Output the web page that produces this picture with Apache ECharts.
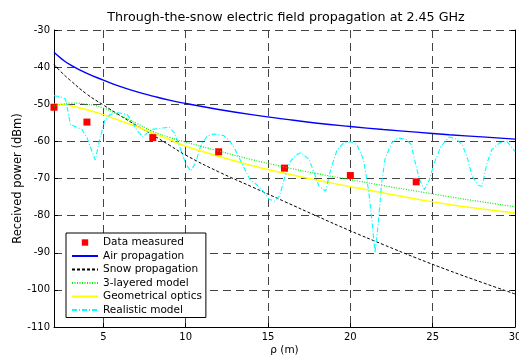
<!DOCTYPE html>
<html>
<head>
<meta charset="utf-8">
<script src="https://cdn.jsdelivr.net/npm/echarts@6/dist/echarts.min.js"></script>
<style>
html,body{margin:0;padding:0;background:#fff;}
#chart{width:519px;height:356px;}
</style>
</head>
<body>
<div id="chart"></div>
<script>
// ---- data ----
const titleText = 'Through-the-snow electric field propagation at 2.45 GHz';
const xName = 'ρ (m)';
const yName = 'Received power (dBm)';
const seriesNames = ['Data measured','Air propagation','Snow propagation','3-layered model','Geometrical optics','Realistic model'];

const measRho   = [2, 4, 8, 12, 16, 20, 24];
const measPower = [-50.8, -54.8, -59.0, -62.8, -67.2, -69.2, -70.9];

const modelRho     = [2, 2.5, 3, 4, 5, 6, 7, 8, 9, 10, 12, 14, 16, 18, 20, 22, 24, 26, 28, 30];
const airPower     = [-36.0, -37.9, -39.4, -41.7, -43.5, -45.2, -46.6, -47.8, -48.9, -49.8, -51.4, -52.8, -54.0, -55.1, -56.0, -56.8, -57.5, -58.2, -58.8, -59.4];
const snowPower    = [-39.3, -41.6, -43.6, -47.3, -50.2, -53.0, -55.7, -58.3, -61.0, -63.7, -68.2, -72.2, -76.2, -80.2, -84.1, -87.8, -91.4, -94.8, -98.0, -101.1];
const layeredPower = [-50.5, -50.0, -49.7, -50.0, -51.0, -53.0, -55.1, -57.3, -58.9, -60.2, -62.6, -64.9, -66.9, -68.7, -70.3, -71.9, -73.4, -74.9, -76.3, -77.6];
const opticsPower  = [-50.0, -50.1, -50.4, -51.5, -52.8, -54.4, -56.0, -57.8, -59.5, -61.3, -64.0, -66.5, -68.6, -70.5, -72.2, -73.9, -75.5, -77.0, -78.2, -79.3];

const realRho   = [2.0, 2.4, 2.7, 3.0, 3.4, 3.7, 4.0, 4.25, 4.5, 4.8, 5.1, 5.4, 5.85, 6.45, 6.8, 7.0, 7.4, 7.9, 8.6, 9.0, 9.3, 9.7, 10.0, 10.3, 10.6, 10.9, 11.3, 11.7, 12.3, 12.7, 13.0, 13.4, 13.9, 14.3, 14.7, 15.05, 15.4, 15.7, 16.0, 16.3, 16.6, 17.0, 17.5, 17.8, 18.1, 18.5, 18.8, 19.2, 19.6, 20.0, 20.4, 20.8, 21.1, 21.3, 21.5, 21.7, 21.9, 22.1, 22.5, 22.9, 23.4, 23.7, 23.9, 24.2, 24.5, 24.8, 25.1, 25.5, 26.0, 26.4, 26.8, 27.1, 27.4, 27.8, 28.0, 28.3, 28.6, 29.1, 29.5, 30.0];
const realPower = [-47.7, -48.0, -48.6, -55.5, -56.2, -56.8, -59.0, -62.0, -65.0, -59.0, -54.2, -52.8, -52.2, -52.8, -55.0, -56.8, -58.8, -56.8, -56.4, -56.2, -57.7, -62.2, -66.0, -68.0, -65.8, -61.3, -58.6, -58.0, -58.4, -60.0, -62.2, -65.8, -70.3, -71.6, -73.4, -75.6, -76.1, -74.7, -69.8, -65.8, -64.0, -63.0, -64.9, -68.5, -72.1, -73.4, -67.6, -62.2, -60.4, -60.1, -60.9, -64.9, -73.0, -81.0, -90.0, -81.9, -71.2, -64.9, -60.4, -59.1, -59.5, -60.9, -64.9, -70.3, -73.0, -70.3, -65.8, -61.3, -58.8, -59.3, -60.9, -64.4, -69.4, -71.9, -72.1, -65.8, -62.2, -60.3, -60.0, -62.7];

const xMin = 2, xMax = 30;
const yMin = -110, yMax = -30, yStep = 10;

// ---- build ----
function pairs(xs, ys){ return xs.map((x,i)=>[x, ys[i]]); }
const FONT = 'DejaVu Sans';
const gridLine = {show:true, lineStyle:{color:'#444', width:1, type:[8,5]}};
const noFill = 'rgba(0,0,0,0)';

const chart = echarts.init(document.getElementById('chart'), null, {renderer:'canvas'});
chart.setOption({
  animation:false,
  backgroundColor:'#fff',
  title:{text:titleText, left:281, textAlign:'center', top:6,
    textStyle:{fontFamily:FONT, fontSize:12.7, fontWeight:'normal', color:'#000'}},
  grid:{left:54, right:4, top:30, bottom:29, outerBoundsMode:'none', containLabel:false},
  xAxis:{type:'value', min:xMin, max:xMax, splitNumber:5,
    name:xName, nameLocation:'middle', nameGap:18, nameMoveOverlap:false,
    nameTextStyle:{fontFamily:FONT, fontSize:10.5, color:'#000'},
    axisLine:{show:true, onZero:false, lineStyle:{color:'#000', width:1}},
    axisTick:{show:true, inside:true, length:4, lineStyle:{color:'#000'}},
    axisLabel:{fontFamily:FONT, fontSize:10, color:'#000', margin:5, hideOverlap:false,
      formatter:v=> (v % 5 === 0 ? String(v) : '')},
    splitLine:gridLine},
  yAxis:[{type:'value', min:yMin, max:yMax, interval:yStep,
    name:yName, nameLocation:'middle', nameGap:30, nameMoveOverlap:false,
    nameTextStyle:{fontFamily:FONT, fontSize:11.5, color:'#000'},
    axisLine:{show:true, onZero:false, lineStyle:{color:'#000', width:1}},
    axisTick:{show:true, inside:true, length:4, lineStyle:{color:'#000'}},
    axisLabel:{fontFamily:FONT, fontSize:10, color:'#000', margin:4},
    splitLine:gridLine},
   {type:'value', min:yMin, max:yMax, interval:yStep, position:'right',
    axisLine:{show:true, onZero:false, lineStyle:{color:'#000', width:1}},
    axisTick:{show:true, inside:true, length:4, lineStyle:{color:'#000'}},
    axisLabel:{show:false}, splitLine:{show:false}}],
  legend:{orient:'vertical', left:66, top:233, itemWidth:26, itemHeight:8, itemGap:0.5,
    padding:[3,4,1,5], borderColor:'#000', borderWidth:1, backgroundColor:'#fff',
    itemStyle:{color:noFill, borderWidth:0, borderColor:noFill},
    textStyle:{fontFamily:FONT, fontSize:10.5, color:'#000', lineHeight:13},
    data:[{name:seriesNames[0], itemStyle:{color:'#ff0000'}}, seriesNames[1], seriesNames[2], seriesNames[3], seriesNames[4], seriesNames[5]]},
  series:[
    {name:seriesNames[1], type:'line', symbol:'none', data:pairs(modelRho, airPower), smooth:true,
      lineStyle:{color:'#0000ff', width:1.4}, itemStyle:{color:'#0000ff'}, z:3},
    {name:seriesNames[2], type:'line', symbol:'none', data:pairs(modelRho, snowPower), smooth:true,
      lineStyle:{color:'#000', width:1, type:[3,2]}, itemStyle:{color:'#000'}, z:3},
    {name:seriesNames[4], type:'line', symbol:'none', data:pairs(modelRho, opticsPower), smooth:true,
      lineStyle:{color:'#ffff00', width:1.5}, itemStyle:{color:'#ffff00'}, z:3},
    {name:seriesNames[5], type:'line', symbol:'none', data:pairs(realRho, realPower),
      lineStyle:{color:'#00ffff', width:1.1, type:[5,2,1,2]}, itemStyle:{color:'#00ffff'}, z:3},
    {name:seriesNames[0], type:'line', symbol:'rect', symbolSize:7, showSymbol:true, data:pairs(measRho, measPower),
      lineStyle:{opacity:0, width:0}, itemStyle:{color:'#ff0000'}, z:4},
    {name:seriesNames[3], type:'line', symbol:'none', data:pairs(modelRho, layeredPower), smooth:true,
      lineStyle:{color:'#00ee00', width:1.2, type:[1,1.5]}, itemStyle:{color:'#00ee00'}, z:5}
  ]
});
</script>
</body>
</html>
